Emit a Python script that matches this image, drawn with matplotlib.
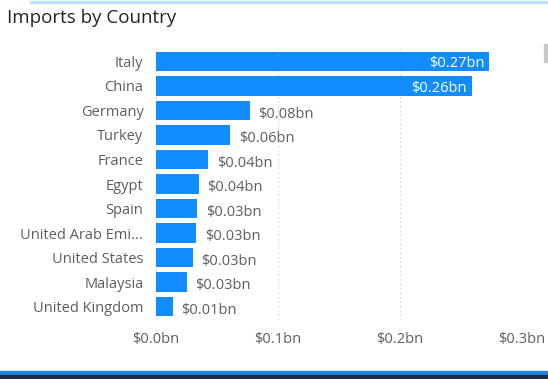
import numpy as np
import matplotlib.pyplot as plt
from matplotlib.patches import Rectangle

plt.rcParams['font.family'] = ['Open Sans', 'DejaVu Sans']

# Dades
countries = ['Italy', 'China', 'Germany', 'Turkey', 'France', 'Egypt', 'Spain',
             'United Arab Emi...', 'United States', 'Malaysia', 'United Kingdom']
imports_bn = [0.273, 0.259, 0.077, 0.061, 0.043, 0.035, 0.034, 0.033, 0.030, 0.025, 0.014]
value_labels = ['$0.27bn', '$0.26bn', '$0.08bn', '$0.06bn', '$0.04bn', '$0.04bn',
                '$0.03bn', '$0.03bn', '$0.03bn', '$0.03bn', '$0.01bn']
xticks = [0.0, 0.1, 0.2, 0.3]
xtick_labels = ['$0.0bn', '$0.1bn', '$0.2bn', '$0.3bn']

bar_color = '#118DFF'
text_color = '#605E5C'
fs = 10.5

W, H = 548, 379
fig = plt.figure(figsize=(W / 100, H / 100), dpi=100)
ax = fig.add_axes([156 / W, 1 - 320 / H, (522 - 156) / W, (320 - 48) / H])

y = np.arange(len(countries))
ax.barh(y, imports_bn, height=0.78, color=bar_color, zorder=3)
ax.set_ylim(len(countries) - 0.5 + 0.05, -0.5 - 0.05)
ax.set_xlim(0, 0.3)

for i, (v, lab) in enumerate(zip(imports_bn, value_labels)):
    if v > 0.2:
        ax.text(v - 0.004, i + 0.1, lab, ha='right', va='center', color='white',
                fontsize=fs, zorder=4)
    else:
        ax.text(v + 0.007, i + 0.15, lab, ha='left', va='center', color=text_color,
                fontsize=fs, zorder=4)

ax.set_yticks(y)
ax.set_yticklabels(countries, fontsize=fs, color=text_color)
ax.set_xticks(xticks)
ax.set_xticklabels(xtick_labels, fontsize=fs, color=text_color)
ax.tick_params(length=0, pad=9)
ax.tick_params(axis='x', pad=9)
for s in ax.spines.values():
    s.set_visible(False)
ax.grid(axis='x', color='#C8C8C8', linestyle=(0, (1, 3)), linewidth=0.8, zorder=0)
ax.grid(axis='y', visible=False)

fig.text(7 / W, 1 - 18 / H, 'Imports by Country', fontsize=13.5, color='#252423',
         ha='left', va='center')

# vores de la targeta
fig.patches.append(Rectangle((30 / W, 1 - 3 / H), 1, 2 / H, transform=fig.transFigure,
                             color='#BDE3F7', zorder=0))
fig.patches.append(Rectangle((0, 1 - 374 / H), 1, 3 / H, transform=fig.transFigure,
                             color='#1E88E5', zorder=0))
fig.patches.append(Rectangle((0, 0), 1, 4 / H, transform=fig.transFigure,
                             color='#1F2A44', zorder=0))
fig.patches.append(Rectangle((544 / W, 1 - 62 / H), 4 / W, 18 / H, transform=fig.transFigure,
                             color='#C8C8C8', zorder=0))

fig.savefig('out.png', dpi=100)
